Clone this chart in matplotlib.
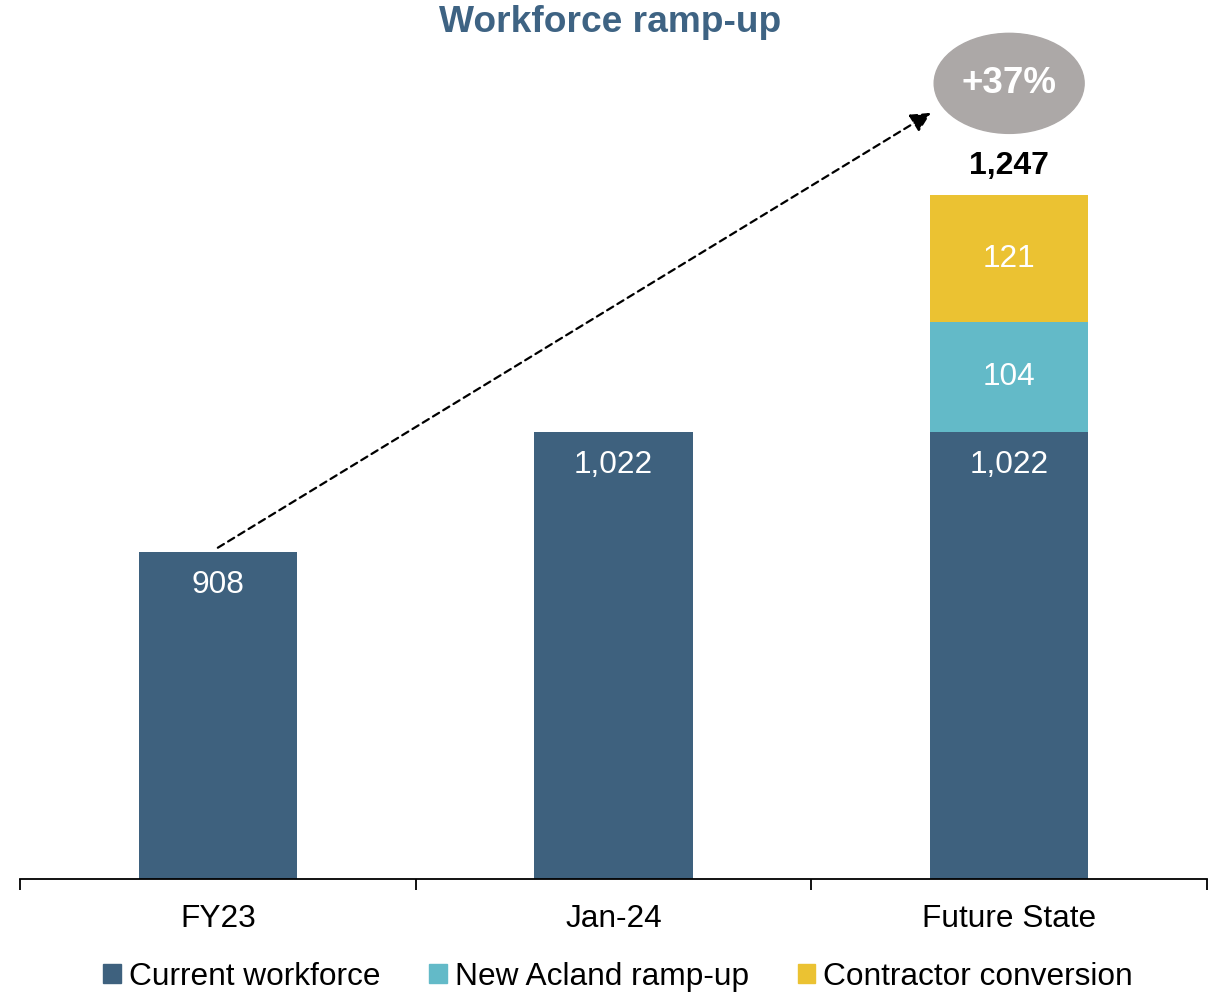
import matplotlib
matplotlib.use("Agg")
import matplotlib.pyplot as plt
from matplotlib.patches import Ellipse, Patch

plt.rcParams["font.family"] = ["Liberation Sans", "DejaVu Sans"]

categories = ["FY23", "Jan-24", "Future State"]
current = [908, 1022, 1022]
acland = [0, 0, 104]
contractor = [0, 0, 121]
series_names = ["Current workforce", "New Acland ramp-up", "Contractor conversion"]
growth_label = "+37%"

c_blue = "#3E617E"
c_teal = "#63BAC8"
c_yellow = "#EBC232"
c_grey = "#ACA8A7"

fig = plt.figure(figsize=(12.2, 9.94), dpi=100)
ax = fig.add_axes([20 / 1220, 115 / 994, 1187 / 1220, 839 / 994])
x = list(range(len(categories)))
w = 0.4
ymin = 597.4
ymax = ymin + 839 / 1.053

ax.bar(x, current, w, color=c_blue)
ax.bar(x, acland, w, bottom=current, color=c_teal)
bot2 = [a + b for a, b in zip(current, acland)]
ax.bar(x, contractor, w, bottom=bot2, color=c_yellow)
totals = [a + b for a, b in zip(bot2, contractor)]

ax.set_xlim(-0.5, len(categories) - 0.5)
ax.set_ylim(ymin, ymax)

fs = 22.8
lab = dict(color="white", fontsize=fs, ha="center", va="center")
for i in x:
    ax.annotate(f"{current[i]:,}", (i, current[i]), xytext=(0, -24),
                textcoords="offset points", **lab)
    if acland[i]:
        ax.text(i, current[i] + acland[i] / 2, f"{acland[i]:,}", **lab)
    if contractor[i]:
        ax.text(i, bot2[i] + contractor[i] / 2, f"{contractor[i]:,}", **lab)
        ax.annotate(f"{totals[i]:,}", (i, totals[i]), xytext=(0, 21),
                    textcoords="offset points", ha="center", va="center",
                    fontsize=23, fontweight="bold", color="black")

# growth bubble + dashed arrow
last = len(categories) - 1
ecy = totals[last] + 106
ax.add_patch(Ellipse((last, ecy), 0.379, 95, color=c_grey, zorder=3, clip_on=False))
ax.text(last, ecy, growth_label, ha="center", va="center", color="white",
        fontsize=26.5, fontweight="bold", zorder=4)
ax.annotate("", xy=(last - 0.198, ecy - 28), xytext=(0, current[0] + 4),
            annotation_clip=False,
            arrowprops=dict(arrowstyle="-|>,head_length=0.8,head_width=0.4",
                            mutation_scale=15,
                            linestyle=(0, (3.2, 2.2)), lw=1.6, color="black",
                            shrinkA=0, shrinkB=0))

for s in ["left", "top", "right"]:
    ax.spines[s].set_visible(False)
ax.spines["bottom"].set_linewidth(1.3)
ax.set_yticks([])
ax.set_xticks(x)
ax.set_xticklabels(categories, fontsize=fs)
ax.tick_params(axis="x", which="major", length=0, pad=18)
ax.set_xticks([i - 0.5 for i in range(len(categories) + 1)], minor=True)
ax.tick_params(axis="x", which="minor", length=8, width=1.3, direction="out")

fig.text(0.5, 1 - 23 / 994, "Workforce ramp-up", ha="center", va="center",
         fontsize=26.7, fontweight="bold", color="#3E6383")

handles = [Patch(color=c) for c in (c_blue, c_teal, c_yellow)]
fig.legend(handles, series_names, loc="center", bbox_to_anchor=(618 / 1220, 17 / 994),
           ncol=3, frameon=False, fontsize=fs, handlelength=0.55,
           handleheight=0.55, handletextpad=0.25, columnspacing=1.55,
           borderaxespad=0, borderpad=0)

fig.savefig("out.png", dpi=100)
